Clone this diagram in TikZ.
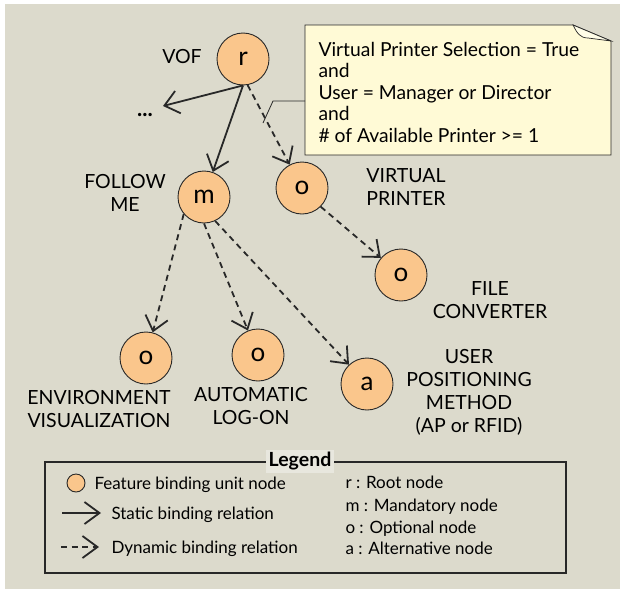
\documentclass[tikz,border=0pt]{standalone}
\usepackage{fontspec}
\setmainfont{Lato}
\usetikzlibrary{arrows.meta}

\definecolor{canvas}{RGB}{220,218,204}
\definecolor{fbufill}{RGB}{250,198,140}
\definecolor{memo}{RGB}{255,250,214}
\definecolor{memoflap}{RGB}{255,253,232}
\definecolor{headfill}{RGB}{232,231,222}
\definecolor{ink}{RGB}{40,40,40}

\begin{document}
\begin{tikzpicture}[x=1pt,y=-1pt,line width=1pt,
  every node/.style={inner sep=0pt,text=black},
  fbu/.style={circle,draw=ink,line width=0.9pt,fill=fbufill,minimum size=52pt,
    font=\fontsize{26pt}{26pt}\selectfont},
  lbl/.style={align=center,font=\fontsize{19.5pt}{23pt}\selectfont},
  keytext/.style={anchor=base west,font=\fontsize{17pt}{20pt}\selectfont},
  static/.style={draw=ink,line width=1.8pt,-{Straight Barb[length=14pt,width=23pt]}},
  dynamic/.style={static,dash pattern=on 6pt off 4.5pt}]
  \useasboundingbox (0,0) rectangle (620,589);
  \fill[canvas] (5,4) rectangle (620,589);

  % feature binding units
  \node[fbu] (r)  at (243,59)  {r};
  \node[fbu] (m)  at (204,197) {m};
  \node[fbu] (vp) at (302,188) {o};
  \node[fbu] (fc) at (401,275) {o};
  \node[fbu] (ev) at (146,358) {o};
  \node[fbu] (al) at (258,355) {o};
  \node[fbu] (up) at (367,384) {a};

  \node[lbl] (vof)    at (182,57)  {VOF};
  \node[lbl] (follow) at (125,193) {FOLLOW\\ME};
  \node[lbl] (vprint) at (406,187) {VIRTUAL\\PRINTER};
  \node[lbl] (fconv)  at (490,300) {FILE\\CONVERTER};
  \node[lbl] (envvis) at (99,409)  {ENVIRONMENT\\VISUALIZATION};
  \node[lbl] (autolog) at (251,406) {AUTOMATIC\\LOG-ON};
  \node[lbl] (userpos) at (469,392) {USER\\POSITIONING\\METHOD\\(AP or RFID)};

  % relations
  \coordinate (more) at (163,106);
  \node[font=\fontsize{22pt}{22pt}\selectfont\bfseries] (dots) at (145,115) {...};
  \draw[static]  (r.south) -- (more);
  \draw[static]  (r.south) -- (m);
  \draw[dynamic] (r.-80)   -- (vp);
  \draw[dynamic] (vp.-45)  -- (fc);
  \draw[dynamic] (m.-140)  -- (ev);
  \draw[dynamic] (m.south) -- (al);
  \draw[dynamic] (m.-65)   -- (up);

  % binding condition note
  \coordinate (nw) at (305,25);
  \coordinate (se) at (611,155);
  \filldraw[fill=memo,draw=ink,line width=0.9pt]
    (nw) -- (573,25) -- (611,41) -- (se) -- (nw |- se) -- cycle;
  \filldraw[fill=memoflap,draw=ink,line width=0.7pt]
    (573,25) .. controls (577,33) and (580,38) .. (588,38) -- (611,41) -- cycle;
  \node[anchor=west,align=left,font=\fontsize{19.3pt}{21.5pt}\selectfont] (cond) at (318,92)
    {Virtual Printer Selection = True\\and\\User = Manager or Director\\and\\\# of Available Printer >= 1};
  \coordinate (hook) at (263,123);
  \coordinate (bend) at (273,101);
  \draw[ink,line width=0.8pt] (hook) -- (bend) -- (bend -| nw);

  % legend
  \draw[ink,line width=1.1pt] (45,462) rectangle (566,573);
  \node[fill=headfill,inner xsep=3pt,inner ysep=2.5pt,
    font=\fontsize{19.5pt}{22pt}\selectfont\bfseries] (legend) at (300,461) {Legend};
  \node[circle,draw=ink,line width=0.9pt,fill=fbufill,minimum size=18pt] (key) at (76,483) {};
  \node[keytext] (keyfbu) at (94,489) {Feature binding unit node};
  \coordinate (s0) at (62,513);
  \coordinate (s1) at (101,513);
  \draw[static,-{Straight Barb[length=15pt,width=22pt]}] (s0) -- (s1);
  \node[keytext] (keystatic) at (111,519) {Static binding relation};
  \coordinate (d0) at (61,547);
  \coordinate (d1) at (99,547);
  \draw[dynamic,-{Straight Barb[length=15pt,width=22pt]}] (d0) -- (d1);
  \node[keytext] (keydyn) at (111,553) {Dynamic binding relation};
  \node[keytext] (keyr) at (345,488) {r : Root node};
  \node[keytext] (keym) at (345,511) {m : Mandatory node};
  \node[keytext] (keyo) at (345,533) {o : Optional node};
  \node[keytext] (keya) at (345,554) {a : Alternative node};
\end{tikzpicture}
\end{document}
